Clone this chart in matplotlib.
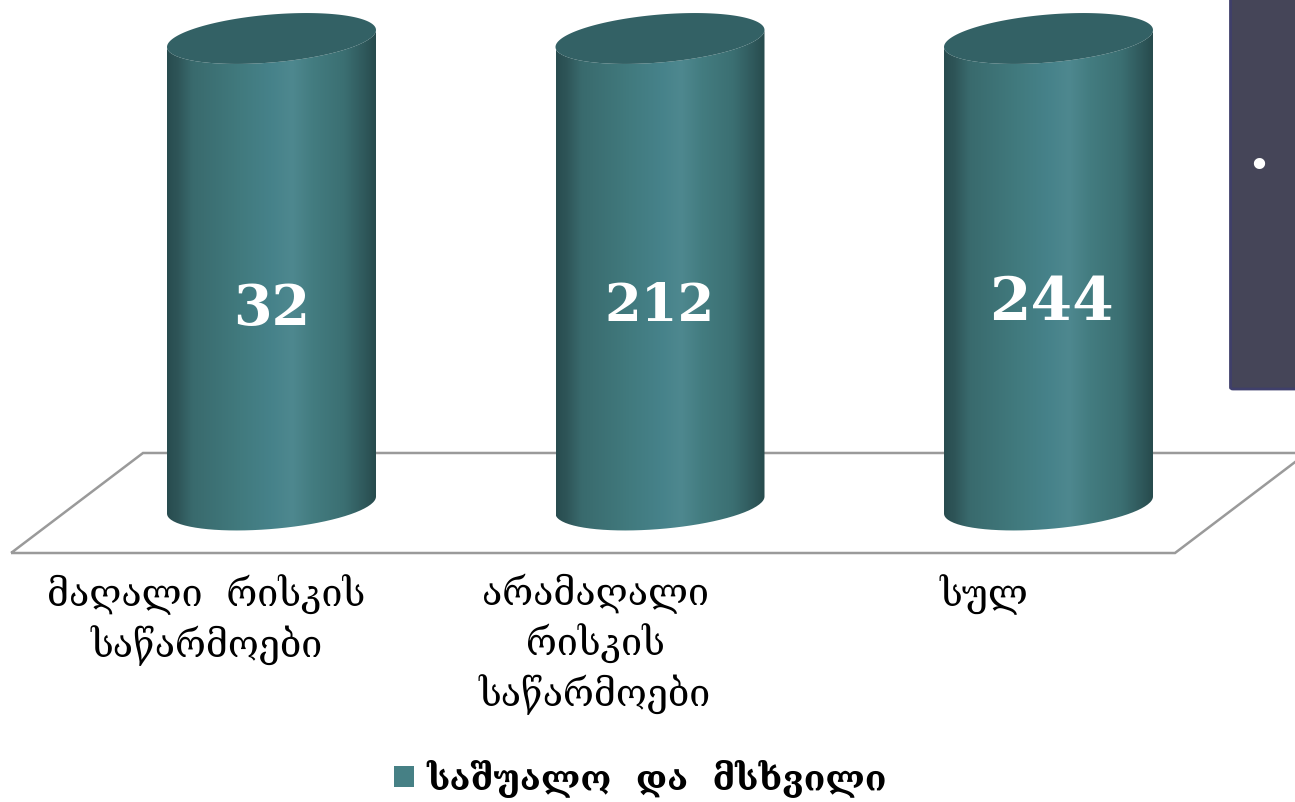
import numpy as np
import matplotlib
matplotlib.use("Agg")
import matplotlib.pyplot as plt
from matplotlib.colors import LinearSegmentedColormap
from matplotlib.patches import Patch, PathPatch, Polygon, FancyBboxPatch
from matplotlib.path import Path

# -----------------------
# Data
# -----------------------
categories = ["მაღალი  რისკის\nსაწარმოები", "არამაღალი\nრისკის\nსაწარმოები", "სულ"]
values = [32, 212, 244]
shares = [1.0, 1.0, 1.0]   # every cylinder is drawn full height in the original
series_name = "საშუალო  და  მსხვილი"
value_nudge = [0.0, 0.006, 0.014]
value_shift = [0.0, -0.002, 0.008]
value_sizes = [40, 38, 43]

W, H = 1295, 802
X_UNIT = 388.5   # px per category
Y_UNIT = 466.5   # px per 100%
X0_PX = 271.5
Y0_PX = 505.0

fig = plt.figure(figsize=(W / 100, H / 100), dpi=100)
ax = fig.add_axes([0, 0, 1, 1])
ax.axis("off")
xlim = (-X0_PX / X_UNIT, (W - X0_PX) / X_UNIT)
ylim = (-(H - Y0_PX) / Y_UNIT, Y0_PX / Y_UNIT)

bar_cmap = LinearSegmentedColormap.from_list("cyl", [
    (0.00, "#284c4f"), (0.05, "#2e5558"), (0.12, "#396a6d"), (0.35, "#417a7e"),
    (0.50, "#46828a"), (0.60, "#4e888f"), (0.70, "#437c80"), (0.85, "#3b6f72"),
    (0.94, "#305a5d"), (1.00, "#274b4d"),
])
gradient = np.linspace(0, 1, 256).reshape(1, -1)

# half width, half height and tilt of the ellipse ends, in axis units
a = 104.5 / X_UNIT
b = 24.0 / Y_UNIT
tilt = 8.5 / Y_UNIT


def ellipse_xy(cx, cy, t):
    return cx + a * np.cos(t), cy + b * np.sin(t) + tilt * np.cos(t)


# -----------------------
# Floor
# -----------------------
floor = Polygon([(-0.6705, -0.1029), (-0.3307, 0.1115), (2.6654, 0.1115), (2.3256, -0.1029)],
                closed=True, fill=False, edgecolor="#9a9a9a", lw=1.8, zorder=1)
ax.add_patch(floor)

# -----------------------
# Cylinders
# -----------------------
for i, share in enumerate(shares):
    # lower rim from right to left, then top rim back from left to right
    bx, by = ellipse_xy(i, 0, np.linspace(0, -np.pi, 80))
    tx, ty = ellipse_xy(i, share, np.linspace(-np.pi, 0, 80))
    pts = np.column_stack([np.r_[bx, tx], np.r_[by, ty]])
    body = PathPatch(Path(np.vstack([pts, pts[0]])), fc="none", ec="none", zorder=2)
    ax.add_patch(body)
    im = ax.imshow(gradient, extent=(i - a, i + a, -0.2, share + 0.2), cmap=bar_cmap,
                   aspect="auto", zorder=2, interpolation="bilinear")
    im.set_clip_path(body)

    ex, ey = ellipse_xy(i, share, np.linspace(0, 2 * np.pi, 160))
    ax.fill(ex, ey, color="#336165", lw=0, zorder=3)

    ax.text(i + value_shift[i], 0.42 + value_nudge[i], str(values[i]), color="white",
            ha="center", va="center", fontsize=value_sizes[i], fontweight="bold",
            family="DejaVu Serif", zorder=4)
    ax.text(i - 0.167, -0.148, categories[i], ha="center", va="top", color="black",
            fontsize=27, family="DejaVu Serif", linespacing=1.32, zorder=4)

ax.set_xlim(*xlim)
ax.set_ylim(*ylim)

# -----------------------
# Legend
# -----------------------
ax.legend(handles=[Patch(facecolor="#468085", edgecolor="none", label=series_name)],
          loc="center", bbox_to_anchor=(640.5 / W, 1 - 778 / H), frameon=False,
          handlelength=0.57, handleheight=0.57, handletextpad=0.34,
          prop={"family": "DejaVu Serif", "weight": "bold", "size": 25.4})

# -----------------------
# Slide panel cut off at the right edge
# -----------------------
panel = FancyBboxPatch((1230.5 / W, 1 - 389 / H), 120 / W, 420 / H,
                       boxstyle="round,pad=0,rounding_size=0.002", transform=fig.transFigure,
                       fc="#454558", ec="#3f3f6b", lw=2, zorder=5, clip_on=True)
fig.add_artist(panel)
fig.text(1259 / W, 1 - 167 / H, "•", color="white", ha="center", va="center", fontsize=28,
         family="DejaVu Sans", zorder=6)

plt.savefig("out.png", dpi=100, facecolor="white")
plt.close()
